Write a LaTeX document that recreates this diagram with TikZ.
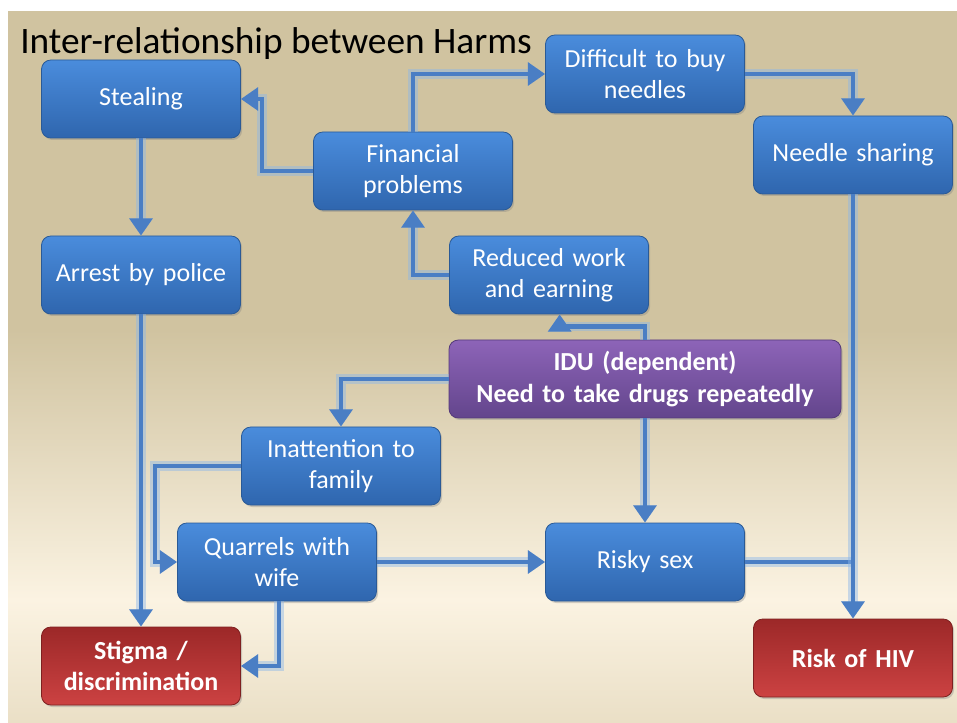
\documentclass[tikz,border=0pt]{standalone}
\usepackage{fontspec}
\setmainfont{Carlito}
\usetikzlibrary{arrows.meta,shadows}
\definecolor{bgtan}{HTML}{D0C3A0}
\definecolor{bgcream}{HTML}{FBF3E2}
\definecolor{bgbot}{HTML}{EADFC6}
\definecolor{blueTop}{HTML}{4A8CDC}
\definecolor{blueBot}{HTML}{2F66AE}
\definecolor{blueEdge}{HTML}{2A5A96}
\definecolor{purpTop}{HTML}{8D64B8}
\definecolor{purpBot}{HTML}{63458C}
\definecolor{purpEdge}{HTML}{553A7A}
\definecolor{redTop}{HTML}{9C2828}
\definecolor{redBot}{HTML}{CC4242}
\definecolor{redEdge}{HTML}{7E2020}
\definecolor{lineBlue}{HTML}{4A7EC4}
\definecolor{glowBlue}{HTML}{8AB6EA}
\tikzset{
  box/.style={rounded corners=7pt, minimum width=149.25pt, minimum height=58.5pt,
    text width=140pt, align=center, font=\fontsize{19.5}{23.5}\selectfont,
    text=white, draw=blueEdge, line width=0.6pt, top color=blueTop, bottom color=blueBot,
    drop shadow={opacity=0.35, shadow xshift=1.2pt, shadow yshift=-1.5pt}},
  purplebox/.style={box, minimum width=294pt, text width=285pt, top color=purpTop,
    bottom color=purpBot, draw=purpEdge, font=\fontsize{19.5}{23.5}\selectfont\bfseries},
  redbox/.style={box, top color=redTop, middle color=redTop!96!redBot, bottom color=redBot, draw=redEdge,
    font=\fontsize{19.5}{23.5}\selectfont\bfseries},
  conn/.style={draw=lineBlue, line width=3.2pt,
    preaction={draw=glowBlue, line width=7pt, opacity=0.45}},
  arr/.style={conn, -{Triangle[width=17pt,length=13pt]}},
}
\begin{document}
\begin{tikzpicture}[x=0.75pt,y=-0.75pt]
\useasboundingbox (0,0) rectangle (957,723);
\fill[white] (0,0) rectangle (957,723);
\fill[bgtan] (8,11) rectangle (957,330);
\shade[top color=bgtan, bottom color=bgcream] (8,329.5) rectangle (957,600);
\shade[top color=bgcream, bottom color=bgbot] (8,599.5) rectangle (957,723);

\node[anchor=base west, inner sep=0pt, font=\fontsize{28}{30}\selectfont] (title) at (20,54) {Inter-relationship between Harms};

\node[box] (steal) at (141,99) {Stealing};
\node[box] (fin) at (413,171) {Financial\\problems};
\node[box] (diff) at (645,74) {Difficult to buy\\needles};
\node[box] (needle) at (853,155) {Needle sharing};
\node[box] (arrest) at (141,275) {Arrest by police};
\node[box] (red) at (549,275) {Reduced work\\and earning};
\node[purplebox] (idu) at (645,379) {IDU (dependent)\\Need to take drugs repeatedly};
\node[box] (inatt) at (341,466) {Inattention to\\family};
\node[box] (quar) at (277,562) {Quarrels with\\wife};
\node[box] (risky) at (645,562) {Risky sex};
\node[redbox] (stigma) at (141,666) {Stigma /\\discrimination};
\node[redbox] (hiv) at (853,658) {Risk of HIV};

\draw[arr] (fin.west) -- ++(-51,0) |- (steal.east);
\draw[arr] (fin.north) |- (diff.west);
\draw[arr] (diff.east) -| (needle.north);
\draw[arr] (steal.south) -- (arrest.north);
\draw[arr] (red.west) -| (fin.south);
\draw[arr] (idu.north) -- ++(0,-13) -| ([xshift=8pt]red.south);
\draw[arr] (idu.west) -| (inatt.north);
\draw[arr] (idu.south) -- (risky.north);
\draw[conn] (risky.east) -- (risky.east -| needle.south);
\draw[arr] (needle.south) -- (hiv.north);
\draw[arr] (arrest.south) -- (stigma.north);
\draw[arr] (inatt.west) -- ++(-86,0) |- (quar.west);
\draw[arr] (quar.east) -- (risky.west);
\draw[arr] ([xshift=1.5pt]quar.south) |- (stigma.east);
\end{tikzpicture}
\end{document}
